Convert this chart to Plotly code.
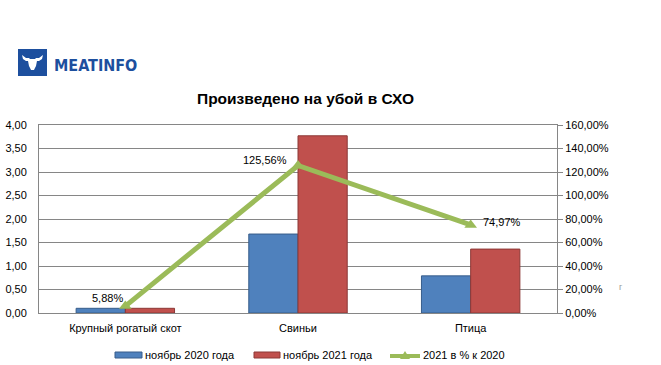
import plotly.graph_objects as go

categories = ["Крупный рогатый скот", "Свиньи", "Птица"]
nov_2020 = [0.10, 1.68, 0.79]
nov_2021 = [0.10, 3.77, 1.36]
pct_2021_vs_2020 = [0.0588, 1.2556, 0.7497]
left_ticks = [0, 0.5, 1, 1.5, 2, 2.5, 3, 3.5, 4]
right_ticks = [0, 0.2, 0.4, 0.6, 0.8, 1.0, 1.2, 1.4, 1.6]
series_names = ["ноябрь 2020 года", "ноябрь 2021 года", "2021 в % к 2020"]

W, H = 661, 365
L, R, T, B = 39, 557, 125, 313
BLUE, RED, GREEN = "#4F81BD", "#C0504D", "#9BBB59"

def px(x, y):
    return (x - L) / (R - L), (B - y) / (B - T)

fig = go.Figure()
fig.add_trace(go.Bar(x=categories, y=nov_2020, name=series_names[0],
                     marker=dict(color=BLUE, line=dict(color="#385D8A", width=1))))
fig.add_trace(go.Bar(x=categories, y=nov_2021, name=series_names[1],
                     marker=dict(color=RED, line=dict(color="#8C3836", width=1))))
fig.add_trace(go.Scatter(x=categories, y=pct_2021_vs_2020, name=series_names[2], yaxis="y2",
                         mode="lines+markers",
                         line=dict(color=GREEN, width=5),
                         marker=dict(symbol="triangle-up", size=11, color=GREEN)))

shapes = []
annotations = []

def rect(xa, ya, xb, yb, color, line=None):
    a = px(xa, yb)
    b = px(xb, ya)
    shapes.append(dict(type="rect", xref="paper", yref="paper", x0=a[0], y0=a[1], x1=b[0], y1=b[1],
                       fillcolor=color, line=line or dict(width=0), layer="above"))

def poly(pts, color):
    path = "M " + " L ".join("%.4f,%.4f" % px(a, b) for a, b in pts) + " Z"
    shapes.append(dict(type="path", xref="paper", yref="paper", path=path,
                       fillcolor=color, line=dict(width=0), layer="above"))

def text(s, x, y, anchor="left", size=11, color="#000000", family="Liberation Sans, Arial", bold=False):
    p = px(x, y)
    annotations.append(dict(text=s, xref="paper", yref="paper", x=p[0], y=p[1],
                            xanchor=anchor, yanchor="middle", showarrow=False,
                            font=dict(family=family, size=size, color=color,
                                      weight="bold" if bold else "normal")))

# logo
rect(18, 49, 47, 76, "#1D4F9E")
poly([(22, 55), (26, 58), (29, 58), (30, 59), (35, 59), (36, 58), (39, 58), (43, 55),
      (42, 59), (39, 61), (37, 61), (36, 66), (34, 70), (31, 70), (29, 66), (28, 61),
      (26, 61), (23, 59)], "#FFFFFF")
text("MEATINFO", 52, 65, size=16, color="#1D4F9E",
     family="DejaVu Sans Condensed, Liberation Sans Narrow, Arial", bold=True)

# title
text("Произведено на убой в СХО", 305, 98, anchor="center", size=15.5, bold=True)

# stray mark
text("г", 621, 287, anchor="center", size=9, color="#999999")

# data labels of the line
label_shifts = [(-18, 8), (-33, 5), (31, 3)]
for c, v, (dx, dy) in zip(categories, pct_2021_vs_2020, label_shifts):
    annotations.append(dict(text=("%.2f%%" % (v * 100)).replace(".", ","),
                            xref="x", yref="y2", x=c, y=v, xshift=dx, yshift=dy,
                            xanchor="center", yanchor="middle", showarrow=False,
                            font=dict(family="Liberation Sans, Arial", size=11, color="#000000")))

# legend (manual)
rect(115, 352, 142, 358, BLUE, dict(color="#385D8A", width=1))
text(series_names[0], 143, 355)
rect(254, 352, 280, 358, RED, dict(color="#8C3836", width=1))
text(series_names[1], 281, 355)
a, b = px(390, 356), px(420, 356)
shapes.append(dict(type="line", xref="paper", yref="paper", x0=a[0], y0=a[1], x1=b[0], y1=b[1],
                   line=dict(color=GREEN, width=4), layer="above"))
poly([(400, 359), (410, 359), (405, 351)], GREEN)
text(series_names[2], 421, 355)

fig.update_layout(
    width=W, height=H,
    margin=dict(l=L, r=W - R, t=T, b=H - B, pad=0, autoexpand=False),
    paper_bgcolor="#FFFFFF", plot_bgcolor="#FFFFFF",
    separators=", ",
    font=dict(family="Liberation Sans, Arial", size=11, color="#000000"),
    barmode="group", bargap=0.43, bargroupgap=0,
    showlegend=False,
    xaxis=dict(showline=True, linecolor="#868686", linewidth=1, mirror=True,
               ticks="", tickfont=dict(size=11), showgrid=False, automargin=False,
               ticklabelstandoff=5),
    yaxis=dict(range=[0, 4], tickvals=left_ticks, tickformat=".2f",
               showgrid=True, gridcolor="#868686", gridwidth=1,
               showline=True, linecolor="#868686", linewidth=1, mirror=False,
               ticks="", ticklabelstandoff=9, zeroline=False, automargin=False),
    yaxis2=dict(range=[0, 1.6], tickvals=right_ticks, tickformat=".2%",
                overlaying="y", side="right", showgrid=False,
                showline=True, linecolor="#868686", linewidth=1,
                ticks="outside", ticklen=5, tickcolor="#868686", zeroline=False,
                automargin=False),
    shapes=shapes,
    annotations=annotations,
)

fig.write_html("out.html", config={"displayModeBar": False},
               post_script="document.body.style.margin='0px';")
